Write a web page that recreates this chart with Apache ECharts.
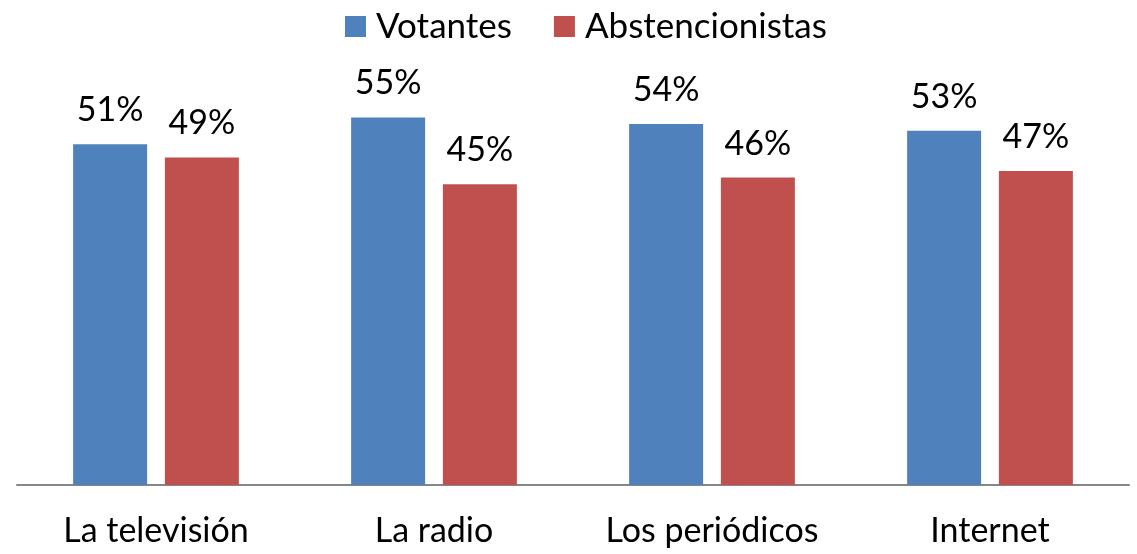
<!DOCTYPE html>
<html>
<head>
<meta charset="utf-8">
<script src="https://cdn.jsdelivr.net/npm/echarts@6/dist/echarts.min.js"></script>
<style>
  html, body { margin: 0; padding: 0; background: #fff; }
  #chart { width: 1137px; height: 554px; }
</style>
</head>
<body>
<div id="chart"></div>
<script>
const categories = ['La televisión', 'La radio', 'Los periódicos', 'Internet'];
const votantes = [51, 55, 54, 53];
const abstencionistas = [49, 45, 46, 47];
const seriesNames = ['Votantes', 'Abstencionistas'];

const font = 'Lato, "Open Sans", sans-serif';
const myChart = echarts.init(document.getElementById('chart'));

const option = {
  animation: false,
  color: ['#4f81bd', '#c0504d'],
  legend: {
    data: seriesNames,
    top: 4,
    left: 340,
    icon: 'rect',
    itemWidth: 21,
    itemHeight: 21,
    itemGap: 42,
    textStyle: { color: '#000', fontSize: 35, fontFamily: font, padding: [0, 0, 0, 5] },
  },
  grid: { left: 17, right: 8, top: 84, bottom: 69 },
  xAxis: {
    type: 'category',
    data: categories,
    axisLine: { lineStyle: { color: '#868686', width: 2 } },
    axisTick: { show: false },
    axisLabel: { color: '#000', fontSize: 34, fontFamily: font, margin: 29 },
  },
  yAxis: {
    type: 'value',
    min: 0,
    max: 60,
    show: false,
    splitLine: { show: false },
  },
  series: [
    {
      name: seriesNames[0],
      type: 'bar',
      data: votantes,
      barWidth: 74,
      barGap: '24%',
      label: {
        show: true, position: 'top', distance: 17,
        formatter: '{c}%', color: '#000', fontSize: 34, fontFamily: font,
      },
    },
    {
      name: seriesNames[1],
      type: 'bar',
      data: abstencionistas,
      barWidth: 74,
      label: {
        show: true, position: 'top', distance: 17,
        formatter: '{c}%', color: '#000', fontSize: 34, fontFamily: font,
      },
    },
  ],
};
myChart.setOption(option);
</script>
</body>
</html>
